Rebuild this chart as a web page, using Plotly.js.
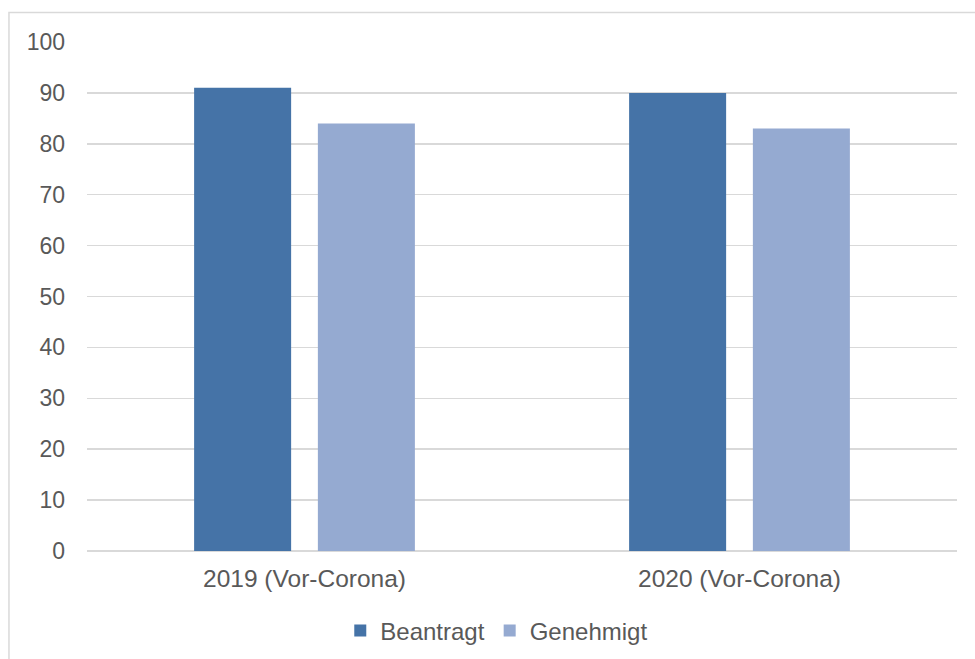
<!DOCTYPE html>
<html>
<head>
<meta charset="utf-8">
<script src="https://cdn.plot.ly/plotly-3.0.1.min.js"></script>
<style>
  html, body { margin: 0; padding: 0; background: #ffffff; }
  #chart { width: 975px; height: 659px; }
</style>
</head>
<body>
<div id="chart"></div>
<script>
const categories = ["2019 (Vor-Corona)", "2020 (Vor-Corona)"];
const seriesNames = ["Beantragt", "Genehmigt"];
const beantragt = [91, 90];
const genehmigt = [84, 83];
const yTicks = [0, 10, 20, 30, 40, 50, 60, 70, 80, 90, 100];

const fontFamily = "'Liberation Sans', Arial, sans-serif";
const textColor = "#595959";
const gridColor = "#d9d9d9";

const traces = [
  { type: "bar", name: seriesNames[0], x: categories, y: beantragt,
    marker: { color: "#4573a7", line: { width: 0 } }, hoverinfo: "skip" },
  { type: "bar", name: seriesNames[1], x: categories, y: genehmigt,
    marker: { color: "#95aad1", line: { width: 0 } }, hoverinfo: "skip" }
];

const layout = {
  width: 975, height: 659,
  margin: { l: 87, r: 18, t: 42, b: 108, autoexpand: false },
  paper_bgcolor: "#ffffff",
  plot_bgcolor: "#ffffff",
  font: { family: fontFamily, size: 23, color: textColor },
  barmode: "group",
  bargap: 0.431,
  bargroupgap: 0.216,
  showlegend: true,
  legend: {
    orientation: "h", x: 0.471, xanchor: "center", y: -0.157, yanchor: "middle",
    font: { family: fontFamily, size: 24, color: textColor },
    traceorder: "normal", itemclick: false, itemdoubleclick: false
  },
  xaxis: {
    type: "category",
    showgrid: false, showline: false, zeroline: false,
    ticks: "", ticklabelstandoff: 10, automargin: false,
    tickfont: { family: fontFamily, size: 24.5, color: textColor }
  },
  yaxis: {
    range: [0, 100], tickvals: yTicks, ticktext: yTicks.map(String),
    showgrid: true, gridcolor: gridColor, gridwidth: 1.5,
    zeroline: true, zerolinecolor: gridColor, zerolinewidth: 1.5,
    showline: false, ticks: "", ticklabelstandoff: 21, automargin: false,
    tickfont: { family: fontFamily, size: 23, color: textColor }
  },
  shapes: [{
    type: "rect", xref: "paper", yref: "paper",
    x0: -0.0897, x1: 1.05, y0: -0.25, y1: 1.058,
    line: { color: gridColor, width: 1.5 }, fillcolor: "rgba(0,0,0,0)", layer: "below"
  }]
};

Plotly.newPlot("chart", traces, layout, { displayModeBar: false, staticPlot: true });
</script>
</body>
</html>
